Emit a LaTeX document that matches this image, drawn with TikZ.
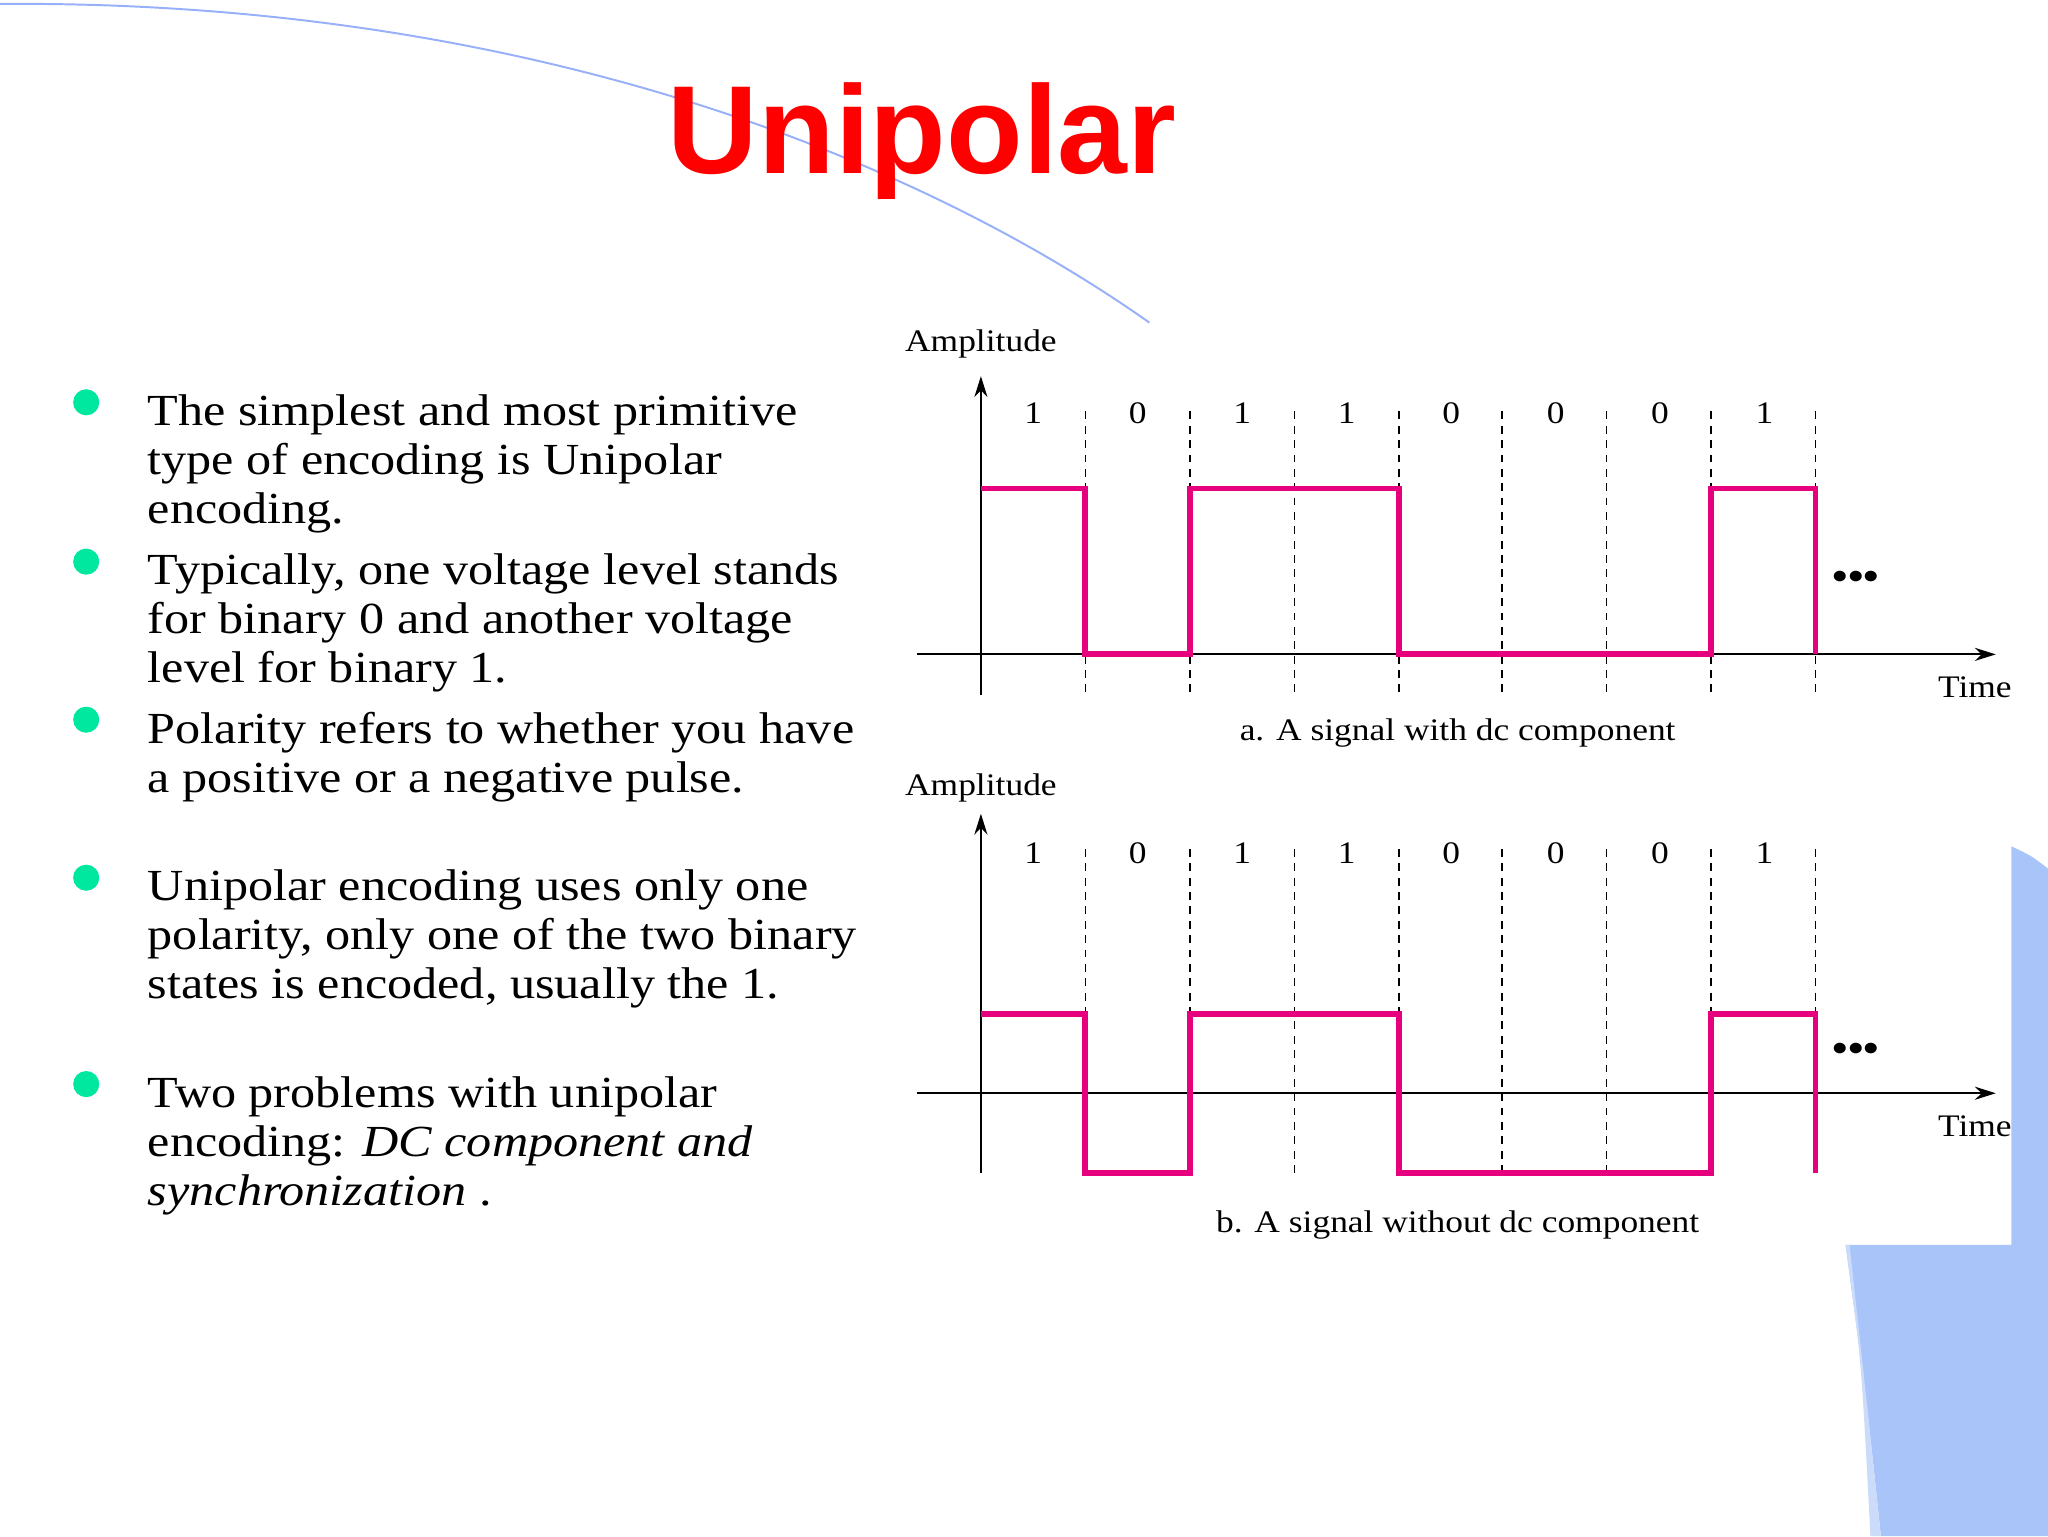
\documentclass[tikz,border=0pt]{standalone}
\usepackage{fontspec}
\setmainfont{Liberation Serif}[FakeStretch=1.13]
\newfontfamily\titlefont{Liberation Sans}
\usetikzlibrary{arrows.meta}
\definecolor{sig}{HTML}{E6007E}
\definecolor{bul}{HTML}{00E8A0}
\definecolor{deco}{HTML}{A8C4F8}
\begin{document}
\begin{tikzpicture}[x=1pt,y=-1pt,
  btxt/.style={anchor=north west,align=left,font=\fontsize{34}{37.5}\selectfont,inner sep=0},
  bdot/.style={circle,fill=bul,minimum size=20pt,inner sep=0},
  lbl/.style={font=\fontsize{24}{28}\selectfont,inner sep=0},
  dsh/.style={dashed,line width=1.3pt,dash pattern=on 6pt off 5pt},
  axis/.style={line width=1.6pt,-{Stealth[length=16pt,width=10pt]}},
  sigl/.style={sig,line width=4.5pt,line join=miter}]
\useasboundingbox (0,0) rectangle (1568,1176);
% decoration
\draw[deco!90!blue,line width=1.5pt] (0,3) .. controls (400,0) and (700,120) .. (880,247);
\fill[deco] (1540,648) .. controls (1555,655) .. (1568,665) -- (1568,1176) -- (1440,1176) .. controls (1430,1080) .. (1413,953) -- (1540,953) -- cycle;
\fill[deco!60!white] (1413,953) .. controls (1425,1040) .. (1432,1176) -- (1440,1176) .. controls (1430,1080) .. (1416,953) -- cycle;
% title
\node[font=\titlefont\bfseries\fontsize{96}{100}\selectfont,text=red,inner sep=0] (title) at (706,108) {Unipolar};
% bullets
\foreach \i/\y in {1/308,2/430,3/551,4/672,5/830} \node[bdot] (d\i) at (66,\y) {};
\node[btxt] (t1) at (113,302) {The simplest and most primitive\\type of encoding is Unipolar\\encoding.};
\node[btxt] (t2) at (113,424) {Typically, one voltage level stands\\for binary 0 and another voltage\\level for binary 1.};
\node[btxt] (t3) at (113,545) {Polarity refers to whether you have\\a positive or a negative pulse.};
\node[btxt] (t4) at (113,666) {Unipolar encoding uses only one\\polarity, only one of the two binary\\states is encoded, usually the 1.};
\node[btxt] (t5) at (113,824) {Two problems with unipolar\\encoding: \textit{DC component and}\\\textit{synchronization} .};
% diagram a
\coordinate (ya0) at (751,532); \coordinate (ya1) at (751,288);
\coordinate (xa0) at (702,501); \coordinate (xa1) at (1528,501);
\draw[axis] (ya0) -- (ya1);
\draw[axis] (xa0) -- (xa1);
\foreach \x in {831,911,991,1071,1150,1230,1310,1390} \draw[dsh] (\x,315) -- (\x,532);
\foreach \b [count=\k] in {1,0,1,1,0,0,0,1} \node[lbl] (ba\k) at (751+80*\k-40,316) {\b};
\draw[sigl] (751,374) -- (831,374) -- (831,501) -- (911,501) -- (911,374) -- (1071,374) -- (1071,501) -- (1310,501) -- (1310,374) -- (1390,374) -- (1390,501);
\node[lbl] (ampa) at (751,263) {Amplitude};
\node[lbl] (timea) at (1512,526) {Time};
\node[font=\bfseries\fontsize{30}{30}\selectfont,inner sep=0] (dotsa) at (1421,444) {\textbullet\textbullet\textbullet};
\node[lbl] (capa) at (1116,561) {a. A signal with dc component};
% diagram b
\coordinate (yb0) at (751,898); \coordinate (yb1) at (751,623);
\coordinate (xb0) at (702,837); \coordinate (xb1) at (1528,837);
\draw[axis] (yb0) -- (yb1);
\draw[axis] (xb0) -- (xb1);
\foreach \x in {831,911,991,1071,1150,1230,1310,1390} \draw[dsh] (\x,650) -- (\x,898);
\foreach \b [count=\k] in {1,0,1,1,0,0,0,1} \node[lbl] (bb\k) at (751+80*\k-40,653) {\b};
\draw[sigl] (751,776) -- (831,776) -- (831,898) -- (911,898) -- (911,776) -- (1071,776) -- (1071,898) -- (1310,898) -- (1310,776) -- (1390,776) -- (1390,898);
\node[lbl] (ampb) at (751,603) {Amplitude};
\node[lbl] (timeb) at (1512,862) {Time};
\node[font=\bfseries\fontsize{30}{30}\selectfont,inner sep=0] (dotsb) at (1421,806) {\textbullet\textbullet\textbullet};
\node[lbl] (capb) at (1116,938) {b. A signal without dc component};
\end{tikzpicture}
\end{document}
